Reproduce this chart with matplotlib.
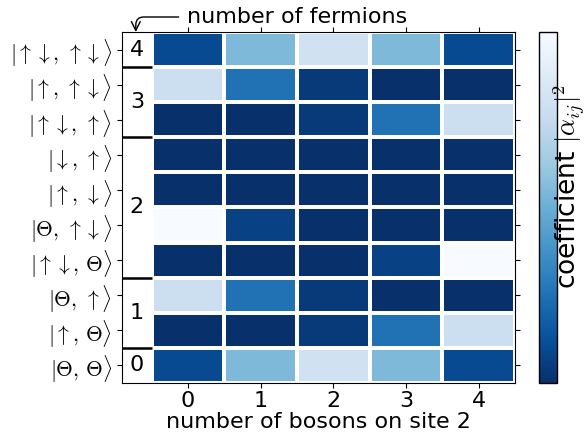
import numpy as np
import matplotlib
matplotlib.use('Agg')
import matplotlib.pyplot as plt

plt.rcParams['mathtext.fontset'] = 'cm'

states = [
    r'$|\uparrow\downarrow,\,\uparrow\downarrow\rangle$',
    r'$|\uparrow,\,\uparrow\downarrow\rangle$',
    r'$|\uparrow\downarrow,\,\uparrow\rangle$',
    r'$|\downarrow,\,\uparrow\rangle$',
    r'$|\uparrow,\,\downarrow\rangle$',
    r'$|\Theta,\,\uparrow\downarrow\rangle$',
    r'$|\uparrow\downarrow,\,\Theta\rangle$',
    r'$|\Theta,\,\uparrow\rangle$',
    r'$|\uparrow,\,\Theta\rangle$',
    r'$|\Theta,\,\Theta\rangle$',
]
bosons = [0, 1, 2, 3, 4]
fermion_labels = ['4', '3', '2', '1', '0']
fermion_centers = [0, 1.5, 4.5, 7.5, 9]
fermion_bounds = [0.5, 2.5, 6.5, 8.5]

coef = np.array([
    [0.10, 0.55, 0.80, 0.55, 0.10],
    [0.78, 0.25, 0.04, 0.00, 0.00],
    [0.00, 0.00, 0.04, 0.25, 0.78],
    [0.00, 0.00, 0.00, 0.00, 0.00],
    [0.00, 0.00, 0.00, 0.00, 0.00],
    [1.00, 0.07, 0.00, 0.00, 0.00],
    [0.00, 0.00, 0.00, 0.07, 1.00],
    [0.78, 0.25, 0.04, 0.00, 0.00],
    [0.00, 0.00, 0.04, 0.25, 0.78],
    [0.10, 0.55, 0.80, 0.55, 0.10],
])

fig = plt.figure(figsize=(5.87, 4.32), dpi=100)
ax = fig.add_axes([122/587, 1-383/432, (515-122)/587, (383-32)/432])
cax = fig.add_axes([539/587, 1-383/432, 18/587, (383-32)/432])

nr, nc = coef.shape
xe = np.arange(nc + 1) - 0.5
ye = np.arange(nr + 1) - 0.5
mesh = ax.pcolormesh(xe, ye, coef, cmap='Blues_r', vmin=0, vmax=1,
                     edgecolors='white', linewidth=1.5)
ax.set_xlim(-0.91, 4.5)
ax.set_ylim(9.5, -0.5)

ax.set_xticks(bosons)
ax.set_xticklabels([str(b) for b in bosons], fontsize=16)
ax.set_yticks(range(nr))
ax.set_yticklabels(states, fontsize=15.5)
ax.tick_params(top=True, right=True, direction='out', length=3.5, width=0.8)
ax.tick_params(axis='x', pad=2)
ax.set_xlabel('number of bosons on site 2', fontsize=16, labelpad=1)

for lab, c in zip(fermion_labels, fermion_centers):
    ax.text(-0.705, c, lab, fontsize=16, ha='center', va='center')
for b in fermion_bounds:
    ax.plot([-0.91, -0.5], [b, b], color='black', lw=1.8, clip_on=False,
            solid_capstyle='butt')

ax.annotate('number of fermions', xy=(-0.72, -0.5), xycoords='data',
            xytext=(187/587, 1-17/432), textcoords='figure fraction',
            fontsize=16, ha='left', va='center',
            arrowprops=dict(arrowstyle='->', color='black', lw=1,
                            connectionstyle='angle,angleA=0,angleB=90,rad=8',
                            shrinkA=4, shrinkB=0))

cb = fig.colorbar(mesh, cax=cax, ticks=[])
cb.set_label(r'coefficient $|\alpha_{ij}|^2$', fontsize=19,
             rotation=90, va='center', ha='center')
cax.yaxis.set_label_coords(1.7, 0.56)
cb.outline.set_linewidth(1)

fig.savefig('out.png', dpi=100)
